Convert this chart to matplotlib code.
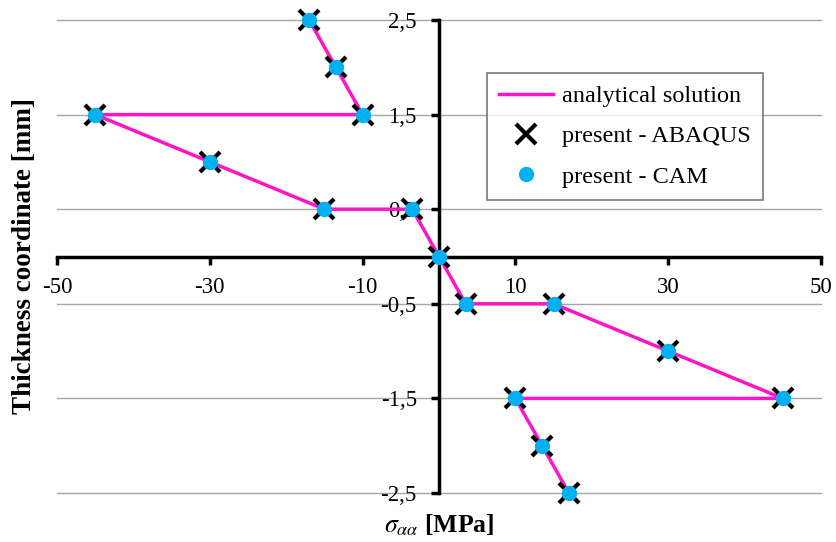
import matplotlib.pyplot as plt

plt.rcParams['font.family'] = ['Liberation Serif', 'DejaVu Serif']
plt.rcParams['mathtext.fontset'] = 'stix'

# stress through the thickness [MPa] vs thickness coordinate [mm]
stress = [-17, -13.5, -10, -45, -30, -15, -3.5, 0, 3.5, 15, 30, 45, 10, 13.5, 17]
thickness = [2.5, 2.0, 1.5, 1.5, 1.0, 0.5, 0.5, 0.0, -0.5, -0.5, -1.0, -1.5, -1.5, -2.0, -2.5]

x_ticks = [-50, -30, -10, 10, 30, 50]
y_ticks = [2.5, 1.5, 0.5, -0.5, -1.5, -2.5]

fig = plt.figure(figsize=(8.37, 5.42), dpi=100)
ax = fig.add_axes([57 / 837, 49 / 542, 764 / 837, 473 / 542])

# horizontal grid
for yt in y_ticks:
    ax.axhline(yt, color='#a6a6a6', lw=1, zorder=0, clip_on=False)

ax.plot(stress, thickness, color='#ff14c8', lw=2.5, zorder=2,
        label='analytical solution', clip_on=False)
ax.plot(stress, thickness, ls='none', marker='x', ms=15, mew=3,
        color='black', zorder=3, label='present - ABAQUS', clip_on=False)
ax.plot(stress, thickness, ls='none', marker='o', ms=10,
        color='#00b0f0', zorder=4, label='present - CAM', clip_on=False)

ax.set_xlim(-50, 50)
ax.set_ylim(-2.5, 2.5)

ax.spines['left'].set_position(('data', 0))
ax.spines['bottom'].set_position(('data', 0))
ax.spines['right'].set_visible(False)
ax.spines['top'].set_visible(False)
ax.spines['left'].set_linewidth(2.5)
ax.spines['bottom'].set_linewidth(2.5)

ax.set_xticks(x_ticks)
ax.set_yticks(y_ticks)
ax.set_xticklabels([str(v) for v in x_ticks])
ax.set_yticklabels([str(v).replace('.', ',') for v in y_ticks])
ax.tick_params(axis='both', direction='out', length=6, width=2.5,
               labelsize=16.5)
ax.tick_params(axis='y', pad=10)
ax.tick_params(axis='x', pad=9)

ax.text(-0.043, 0.5, 'Thickness coordinate [mm]', transform=ax.transAxes,
        rotation=90, ha='center', va='center', fontsize=19.5, fontweight='bold')
ax.text(0.5, -0.068, r'$\sigma_{\alpha\alpha}$ [MPa]', transform=ax.transAxes,
        ha='center', va='center', fontsize=18.5, fontweight='bold')

leg = ax.legend(loc='upper left', bbox_to_anchor=(0.563, 0.888), fontsize=17.5,
                frameon=True, fancybox=False, edgecolor='#595959',
                handlelength=2.2, borderpad=0.5, labelspacing=0.75,
                handletextpad=0.4, borderaxespad=0)
leg.get_frame().set_linewidth(1.2)

fig.savefig('out.png', dpi=100)
